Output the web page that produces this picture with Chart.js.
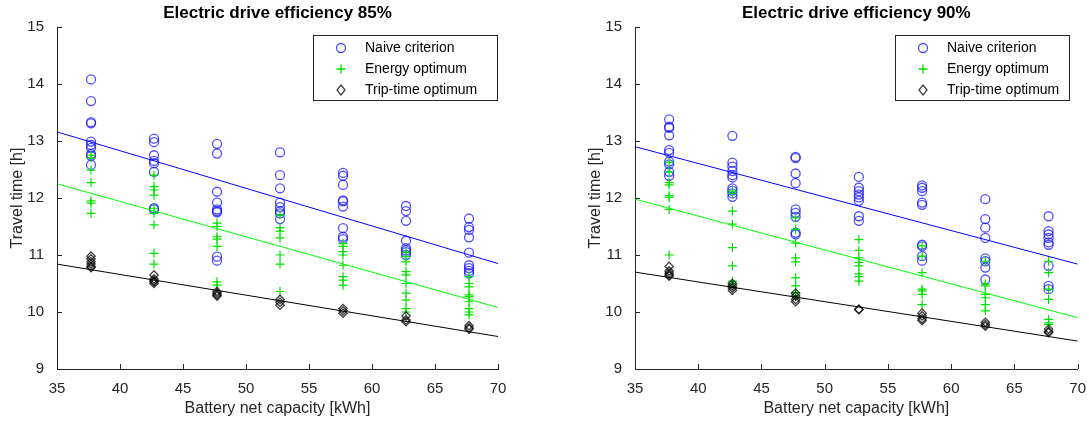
<!DOCTYPE html>
<html>
<head>
<meta charset="utf-8">
<script src="https://cdn.jsdelivr.net/npm/chart.js@4.4.1/dist/chart.umd.min.js"></script>
<style>
body{margin:0;background:#fff;width:1089px;height:425px;overflow:hidden;position:relative}
.panel{position:absolute;top:0;height:425px;width:511px}
#p85{left:0}
#p90{left:578px}
</style>
</head>
<body>
<div class="panel" id="p85"><canvas id="chart85"></canvas></div>
<div class="panel" id="p90"><canvas id="chart90"></canvas></div>
<script>
// x positions of the point columns (battery net capacity, kWh)
const capacities = [37.7, 42.7, 47.7, 52.7, 57.7, 62.7, 67.7];
const xTicks = [35, 40, 45, 50, 55, 60, 65, 70];
const yTicks = [9, 10, 11, 12, 13, 14, 15];
const fitX = [35, 70];
const seriesNames = ['Naive criterion', 'Energy optimum', 'Trip-time optimum'];

// efficiency 85 %  (one inner array per capacity column)
const naive85 = [
  [14.08, 13.70, 13.33, 13.31, 12.99, 12.93, 12.88, 12.77, 12.74, 12.58],
  [13.04, 12.98, 12.75, 12.65, 12.61, 12.46, 11.82, 11.80],
  [12.95, 12.78, 12.11, 11.92, 11.80, 11.77, 11.75, 10.97, 10.90],
  [12.80, 12.40, 12.17, 11.92, 11.84, 11.77, 11.73, 11.63],
  [12.44, 12.39, 12.23, 11.96, 11.94, 11.85, 11.47, 11.32, 11.28],
  [11.86, 11.77, 11.60, 11.25, 11.12, 11.08, 11.05, 11.00],
  [11.64, 11.49, 11.44, 11.31, 11.04, 10.82, 10.77, 10.72, 10.68]
];
const energy85 = [
  [12.75, 12.70, 12.49, 12.27, 11.95, 11.91, 11.73],
  [12.40, 12.20, 12.14, 12.05, 11.82, 11.73, 11.53, 11.03, 10.84],
  [11.56, 11.50, 11.32, 11.28, 11.15, 10.53, 10.47],
  [11.70, 11.48, 11.42, 11.30, 11.00, 10.84, 10.36],
  [11.20, 11.15, 11.06, 11.00, 10.82, 10.62, 10.56, 10.47],
  [11.05, 10.97, 10.88, 10.71, 10.65, 10.50, 10.33, 10.21, 10.06, 10.00],
  [10.62, 10.50, 10.44, 10.30, 10.27, 10.18, 10.06, 10.00, 9.95]
];
const trip85 = [
  [10.98, 10.93, 10.88, 10.84, 10.80, 10.78],
  [10.65, 10.58, 10.55, 10.53, 10.50],
  [10.36, 10.33, 10.30, 10.28],
  [10.22, 10.17, 10.12],
  [10.06, 10.02, 9.98],
  [9.93, 9.86, 9.83],
  [9.76, 9.72, 9.70]
];
const naiveFit85 = [13.16, 10.85];
const energyFit85 = [12.25, 10.08];
const tripFit85 = [10.84, 9.57];

// efficiency 90 %
const naive90 = [
  [13.38, 13.25, 13.23, 13.10, 12.84, 12.79, 12.64, 12.59, 12.46, 12.39],
  [13.09, 12.62, 12.55, 12.47, 12.40, 12.36, 12.17, 12.13, 12.08, 12.02],
  [12.72, 12.70, 12.43, 12.26, 11.80, 11.74, 11.67, 11.39, 11.36],
  [12.37, 12.18, 12.12, 12.06, 12.01, 11.95, 11.68, 11.60],
  [12.22, 12.18, 12.12, 11.92, 11.88, 11.18, 11.15, 10.98, 10.90],
  [11.98, 11.63, 11.48, 11.30, 10.94, 10.89, 10.78, 10.57],
  [11.68, 11.42, 11.36, 11.30, 11.22, 11.18, 10.81, 10.46, 10.40]
];
const energy90 = [
  [12.63, 12.46, 12.27, 12.23, 12.04, 12.01, 11.80, 11.00],
  [12.12, 12.08, 11.77, 11.54, 11.13, 10.81, 10.54, 10.49],
  [11.65, 11.45, 11.21, 10.95, 10.88, 10.60, 10.46, 10.34, 10.28],
  [11.27, 11.08, 10.95, 10.87, 10.81, 10.67, 10.62, 10.54],
  [11.16, 10.98, 10.69, 10.40, 10.37, 10.31, 10.13],
  [10.89, 10.49, 10.46, 10.31, 10.25, 10.13, 10.02],
  [10.89, 10.69, 10.40, 10.22, 9.87, 9.81, 9.78]
];
const trip90 = [
  [10.80, 10.72, 10.68, 10.65, 10.63],
  [10.50, 10.46, 10.42, 10.38],
  [10.33, 10.28, 10.22, 10.18],
  [10.05, 10.04],
  [9.98, 9.93, 9.88, 9.85],
  [9.82, 9.78, 9.75],
  [9.70, 9.66, 9.64]
];
const naiveFit90 = [12.90, 10.84];
const energyFit90 = [11.98, 9.90];
const tripFit90 = [10.70, 9.49];

const FONT = '"Liberation Sans", Arial, sans-serif';
const AXIS = '#262626';
const BLUE = 'rgba(20,20,255,0.75)';
const GREEN = '#00e000';
const BLACK = 'rgba(0,0,0,0.75)';

function toPoints(cols) {
  return cols.flatMap((col, i) => col.map(v => ({x: capacities[i], y: v})));
}
function fitLine(vals) {
  return fitX.map((x, i) => ({x: x, y: vals[i]}));
}

function drawMarker(ctx, style, x, y, color) {
  ctx.strokeStyle = color;
  ctx.lineWidth = 1.3;
  ctx.beginPath();
  if (style === 'circle') {
    ctx.arc(x, y, 4.5, 0, Math.PI * 2);
  } else if (style === 'cross') {
    ctx.moveTo(x - 4.5, y); ctx.lineTo(x + 4.5, y);
    ctx.moveTo(x, y - 4.5); ctx.lineTo(x, y + 4.5);
  } else {
    ctx.moveTo(x, y - 5); ctx.lineTo(x + 4, y); ctx.lineTo(x, y + 5); ctx.lineTo(x - 4, y); ctx.closePath();
  }
  ctx.stroke();
}

// inward ticks, title and legend box, like the original figure
const matlabStyle = {
  id: 'matlabStyle',
  afterDraw(chart, args, opts) {
    const {ctx, chartArea: a, scales: {x, y}} = chart;
    ctx.save();
    ctx.strokeStyle = AXIS;
    ctx.lineWidth = 1;
    ctx.beginPath();
    x.ticks.forEach(t => {
      const px = Math.round(x.getPixelForValue(t.value)) + 0.5;
      ctx.moveTo(px, a.bottom); ctx.lineTo(px, a.bottom - 5);
    });
    y.ticks.forEach(t => {
      const py = Math.round(y.getPixelForValue(t.value)) + 0.5;
      ctx.moveTo(a.left, py); ctx.lineTo(a.left + 5, py);
    });
    ctx.stroke();

    ctx.fillStyle = '#000';
    ctx.font = 'bold 17px ' + FONT;
    ctx.textAlign = 'center';
    ctx.textBaseline = 'middle';
    ctx.fillText(opts.title, (a.left + a.right) / 2, a.top - 14);

    const lx = opts.legendX, ly = 35, lw = opts.legendW, lh = 65;
    ctx.fillStyle = '#fff';
    ctx.fillRect(lx, ly, lw, lh);
    ctx.strokeStyle = AXIS;
    ctx.lineWidth = 1;
    ctx.strokeRect(lx + 0.5, ly + 0.5, lw, lh);
    const styles = ['circle', 'cross', 'diamond'];
    const colors = [BLUE, GREEN, BLACK];
    ctx.font = '14px ' + FONT;
    ctx.textAlign = 'left';
    seriesNames.forEach((name, i) => {
      const ry = ly + 13 + i * 21;
      drawMarker(ctx, styles[i], lx + 28, ry, colors[i]);
      ctx.fillStyle = '#000';
      ctx.fillText(name, lx + 52, ry);
    });
    ctx.restore();
  }
};

function makeChart(id, title, naive, energy, trip, fits, padRight, legendX, legendW) {
  new Chart(document.getElementById(id), {
    type: 'scatter',
    data: {
      datasets: [
        {label: seriesNames[0], data: toPoints(naive), pointStyle: 'circle', pointRadius: 4.5,
         borderColor: BLUE, backgroundColor: 'transparent', borderWidth: 1.3, order: 3},
        {label: seriesNames[1], data: toPoints(energy), pointStyle: 'cross', pointRadius: 4.5,
         borderColor: GREEN, backgroundColor: 'transparent', borderWidth: 1.2, order: 2},
        {label: seriesNames[2], data: toPoints(trip), pointStyle: 'rectRot', pointRadius: 4.2,
         borderColor: BLACK, backgroundColor: 'transparent', borderWidth: 1.3, order: 1},
        {type: 'line', data: fitLine(fits[0]), borderColor: '#0000ff', borderWidth: 1, pointRadius: 0, fill: false, order: 0},
        {type: 'line', data: fitLine(fits[1]), borderColor: '#00ff00', borderWidth: 1, pointRadius: 0, fill: false, order: 0},
        {type: 'line', data: fitLine(fits[2]), borderColor: '#000000', borderWidth: 1, pointRadius: 0, fill: false, order: 0}
      ]
    },
    options: {
      responsive: true,
      maintainAspectRatio: false,
      animation: false,
      layout: {padding: {top: 27, right: padRight, left: 0, bottom: 0}},
      plugins: {
        legend: {display: false},
        tooltip: {enabled: false},
        matlabStyle: {title: title, legendX: legendX, legendW: legendW}
      },
      scales: {
        x: {
          type: 'linear', min: 35, max: 70,
          afterBuildTicks: s => { s.ticks = xTicks.map(v => ({value: v})); },
          afterFit: s => { s.height = 56; },
          grid: {display: false},
          border: {color: AXIS, width: 1},
          ticks: {font: {family: FONT, size: 15}, color: AXIS, padding: 3, maxRotation: 0},
          title: {display: true, text: 'Battery net capacity [kWh]', font: {family: FONT, size: 16},
                  color: AXIS, padding: {top: 0, bottom: 7}}
        },
        y: {
          type: 'linear', min: 9, max: 15,
          afterBuildTicks: s => { s.ticks = yTicks.map(v => ({value: v})); },
          afterFit: s => { s.width = 57; },
          grid: {display: false},
          border: {color: AXIS, width: 1},
          ticks: {font: {family: FONT, size: 15}, color: AXIS, padding: 5},
          title: {display: true, text: 'Travel time [h]', font: {family: FONT, size: 16},
                  color: AXIS, padding: {top: 8, bottom: 0}}
        }
      }
    },
    plugins: [matlabStyle]
  });
}

makeChart('chart85', 'Electric drive efficiency 85%', naive85, energy85, trip85,
  [naiveFit85, energyFit85, tripFit85], 13, 313, 184);
makeChart('chart90', 'Electric drive efficiency 90%', naive90, energy90, trip90,
  [naiveFit90, energyFit90, tripFit90], 11, 317, 174);
</script>
</body>
</html>
